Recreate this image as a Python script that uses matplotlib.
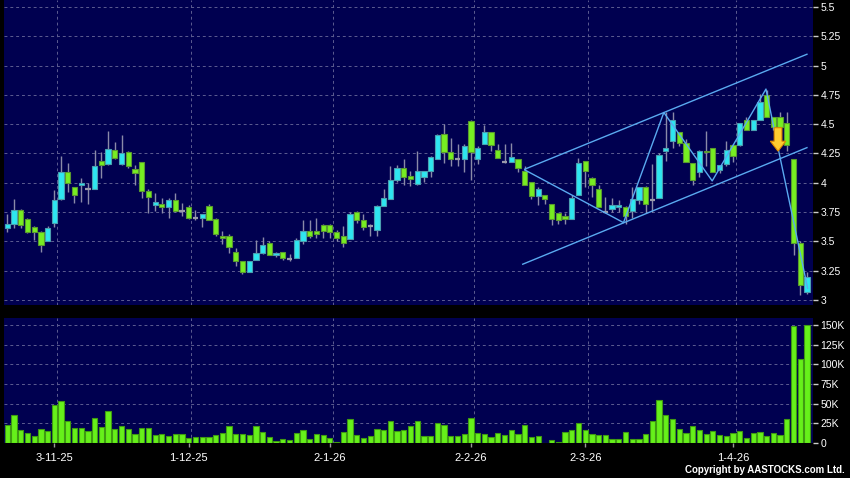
import numpy as np
import matplotlib
matplotlib.use("Agg")
import matplotlib.pyplot as plt
from matplotlib.patches import FancyArrow

plt.rcParams['font.family'] = ['Liberation Sans', 'DejaVu Sans']

# daily candles, one per trading day (index 0 = first bar)
opens = [3.61, 3.65, 3.77, 3.69, 3.62, 3.58, 3.50, 3.66, 3.86, 4.09,
         3.96, 3.98, 3.95, 3.95, 4.19, 4.16, 4.28, 4.16, 4.26, 4.12,
         4.18, 3.93, 3.81, 3.82, 3.79, 3.85, 3.76, 3.79, 3.70, 3.70,
         3.80, 3.69, 3.55, 3.55, 3.41, 3.33, 3.24, 3.34, 3.40, 3.49,
         3.38, 3.41, 3.35, 3.36, 3.50, 3.59, 3.59, 3.64, 3.64, 3.58,
         3.55, 3.52, 3.75, 3.68, 3.63, 3.60, 3.80, 3.86, 4.02, 4.13,
         4.06, 3.99, 4.05, 4.10, 4.20, 4.42, 4.26, 4.20, 4.20, 4.53,
         4.20, 4.33, 4.43, 4.28, 4.18, 4.18, 4.20, 4.10, 4.01, 3.89,
         3.90, 3.82, 3.74, 3.72, 3.69, 3.90, 4.19, 4.04, 3.95, 3.75,
         3.78, 3.79, 3.79, 3.76, 3.85, 3.96, 3.85, 3.87, 4.27, 4.36,
         4.43, 4.34, 4.17, 4.09, 4.27, 4.30, 4.11, 4.16, 4.32, 4.32,
         4.54, 4.45, 4.54, 4.75, 4.56, 4.56, 4.51, 4.20, 3.49, 3.07]
highs = [3.73, 3.86, 3.78, 3.70, 3.63, 3.59, 3.63, 3.94, 4.23, 4.17,
         3.96, 4.04, 4.00, 4.28, 4.26, 4.44, 4.35, 4.41, 4.27, 4.15,
         4.18, 3.95, 3.91, 3.87, 3.87, 3.91, 3.83, 3.81, 3.77, 3.73,
         3.82, 3.70, 3.59, 3.56, 3.44, 3.33, 3.33, 3.51, 3.54, 3.50,
         3.41, 3.41, 3.39, 3.53, 3.68, 3.68, 3.70, 3.65, 3.65, 3.60,
         3.63, 3.75, 3.76, 3.73, 3.65, 3.81, 3.95, 4.14, 4.15, 4.20,
         4.10, 4.27, 4.10, 4.23, 4.42, 4.50, 4.38, 4.33, 4.33, 4.54,
         4.31, 4.49, 4.43, 4.33, 4.33, 4.34, 4.20, 4.14, 4.01, 3.96,
         3.90, 3.82, 3.74, 3.74, 3.90, 4.21, 4.19, 4.05, 3.98, 3.88,
         3.87, 3.85, 3.80, 3.96, 3.96, 3.97, 4.16, 4.25, 4.60, 4.60,
         4.43, 4.37, 4.17, 4.28, 4.44, 4.30, 4.15, 4.36, 4.33, 4.51,
         4.56, 4.54, 4.76, 4.79, 4.56, 4.60, 4.60, 4.20, 3.50, 3.24]
lows = [3.58, 3.61, 3.61, 3.57, 3.51, 3.41, 3.50, 3.62, 3.85, 3.92,
        3.83, 3.84, 3.82, 3.95, 4.04, 4.15, 4.20, 4.15, 4.13, 3.98,
        3.87, 3.74, 3.76, 3.74, 3.70, 3.75, 3.72, 3.69, 3.68, 3.62,
        3.68, 3.55, 3.48, 3.40, 3.29, 3.22, 3.24, 3.34, 3.39, 3.38,
        3.37, 3.34, 3.33, 3.36, 3.48, 3.53, 3.53, 3.53, 3.53, 3.50,
        3.45, 3.52, 3.66, 3.60, 3.55, 3.55, 3.80, 3.86, 4.01, 3.98,
        3.97, 3.98, 4.01, 4.05, 4.20, 4.17, 4.14, 4.14, 4.09, 4.02,
        4.16, 4.33, 4.27, 4.21, 4.17, 4.18, 4.09, 3.98, 3.86, 3.81,
        3.82, 3.64, 3.65, 3.65, 3.69, 3.90, 3.96, 3.88, 3.79, 3.74,
        3.75, 3.75, 3.65, 3.70, 3.82, 3.74, 3.75, 3.87, 4.19, 4.30,
        4.31, 4.18, 3.98, 4.05, 4.14, 4.09, 4.08, 4.14, 4.18, 4.31,
        4.45, 4.45, 4.54, 4.56, 4.45, 4.48, 4.27, 3.38, 3.04, 3.05]
closes = [3.65, 3.77, 3.64, 3.58, 3.58, 3.47, 3.61, 3.85, 4.09, 4.00,
          3.90, 4.00, 3.95, 4.14, 4.15, 4.29, 4.21, 4.25, 4.14, 4.08,
          3.93, 3.88, 3.84, 3.79, 3.85, 3.76, 3.76, 3.70, 3.70, 3.73,
          3.68, 3.56, 3.53, 3.45, 3.33, 3.24, 3.33, 3.40, 3.47, 3.38,
          3.40, 3.36, 3.35, 3.51, 3.59, 3.55, 3.56, 3.59, 3.58, 3.53,
          3.49, 3.73, 3.68, 3.62, 3.63, 3.80, 3.87, 4.02, 4.13, 4.05,
          4.03, 4.10, 4.10, 4.22, 4.41, 4.26, 4.20, 4.20, 4.31, 4.26,
          4.30, 4.43, 4.32, 4.21, 4.18, 4.22, 4.13, 3.98, 3.89, 3.95,
          3.86, 3.69, 3.68, 3.69, 3.87, 4.17, 4.10, 3.98, 3.79, 3.75,
          3.81, 3.81, 3.72, 3.86, 3.96, 3.82, 3.85, 4.24, 4.30, 4.54,
          4.34, 4.18, 4.02, 4.27, 4.26, 4.09, 4.15, 4.28, 4.23, 4.51,
          4.45, 4.54, 4.69, 4.56, 4.48, 4.48, 4.32, 3.49, 3.13, 3.20]
# volume in thousands of shares
volumes = [23, 35, 17, 13, 9, 18, 15, 48, 53, 28,
           19, 19.5, 15, 32, 20, 41, 18, 21, 18, 11,
           19, 19, 10, 11, 9, 12, 11, 6, 8, 8,
           8, 10, 13, 22, 11, 11, 10, 22, 14, 8,
           3, 5.5, 4, 13, 17, 5.5, 11, 10, 6, 1.7,
           14, 30, 10, 6, 9, 18, 16, 28, 15, 16.5,
           22, 28, 9, 8.5, 25, 23, 9, 8.5, 11, 32,
           13, 11, 7, 13, 10, 16.5, 11, 23, 8, 8.5,
           0.3, 4, 1.3, 14, 17, 25, 16, 11, 10, 10,
           5, 5, 14, 5, 5, 12, 28, 55, 36, 30,
           18, 13, 21, 16, 12, 15, 10, 9, 13, 15,
           6, 13, 14, 9, 13, 10, 31, 149, 107, 150]

date_ticks = [7, 27, 48, 69, 86, 108]
date_labels = ['3-11-25', '1-12-25', '2-1-26', '2-2-26', '2-3-26', '1-4-26']
price_ticks = [3, 3.25, 3.5, 3.75, 4, 4.25, 4.5, 4.75, 5, 5.25, 5.5]
price_labels = ['3', '3.25', '3.5', '3.75', '4', '4.25', '4.5', '4.75', '5', '5.25', '5.5']
vol_ticks = [0, 25, 50, 75, 100, 125, 150]
vol_labels = ['0', '25K', '50K', '75K', '100K', '125K', '150K']

# hand drawn channel and zigzag (bar index, price)
upper_x, upper_y = [77.0, 119.0], [4.116, 5.097]
lower_x, lower_y = [76.7, 119.0], [3.305, 4.30]
zigzag_x = [77.0, 91.7, 97.7, 104.9, 112.9, 114.8, 119.1]
zigzag_y = [4.11, 3.66, 4.60, 4.016, 4.80, 4.27, 3.10]
arrow_x, arrow_top, arrow_tip = 114.7, 4.47, 4.27

BG = '#000050'
GRID = '#5c5c90'
UP = '#2ee6f0'
UP_EDGE = '#4a9fb0'
DOWN = '#77ee22'
DOWN_EDGE = '#5a9a30'

o = np.array(opens)
h = np.array(highs)
l = np.array(lows)
c = np.array(closes)
x = np.arange(len(o))

fig = plt.figure(figsize=(8.5, 4.78), dpi=100, facecolor='black')
ax1 = fig.add_axes([4/850, 1 - 305/478, 809/850, 305/478])
ax2 = fig.add_axes([4/850, 1 - 443/478, 809/850, 125/478])

xmin, xmax = -0.49, 119.9
for ax in (ax1, ax2):
    ax.set_facecolor(BG)
    ax.set_xlim(xmin, xmax)
    for s in ax.spines.values():
        s.set_visible(False)
    for t in date_ticks:
        ax.axvline(t + 0.4, color=GRID, lw=0.7, ls=(0, (3, 3)), zorder=0)

# price panel
ax1.set_ylim(2.957, 5.56)
for p in price_ticks:
    ax1.axhline(p, color=GRID, lw=0.7, ls=(0, (3, 3)), zorder=0)

ax1.vlines(x, l, h, color='#8a8aa8', lw=1, zorder=2)
up = c > o
down = c < o
doji = c == o
w = 0.78
ax1.bar(x[up], (c - o)[up], bottom=o[up], width=w, color=UP,
        edgecolor=UP_EDGE, linewidth=0.8, zorder=3)
ax1.bar(x[down], (o - c)[down], bottom=c[down], width=w, color=DOWN,
        edgecolor=DOWN_EDGE, linewidth=0.8, zorder=3)
ax1.hlines(c[doji], x[doji] - w / 2, x[doji] + w / 2, color='#9a9aaa', lw=1.6, zorder=3)

ax1.plot(upper_x, upper_y, color='#5aaaf0', lw=1, zorder=4)
ax1.plot(lower_x, lower_y, color='#5aaaf0', lw=1, zorder=4)
ax1.plot(zigzag_x, zigzag_y, color='#5aaaf0', lw=1, zorder=4)
ax1.add_patch(FancyArrow(arrow_x, arrow_top, 0, arrow_tip - arrow_top, width=1.15,
                         head_width=2.3, head_length=0.085, length_includes_head=True,
                         facecolor='#ffcc30', edgecolor='#e08a00', lw=0.8, zorder=5))

ax1.yaxis.tick_right()
ax1.set_yticks(price_ticks)
ax1.set_yticklabels(price_labels)
ax1.set_xticks([])
ax1.tick_params(axis='y', colors='#cccccc', labelcolor='white', length=3.5,
                width=1, pad=2, labelsize=7.5)

# volume panel
ax2.set_ylim(0, 158.9)
for v in vol_ticks[1:]:
    ax2.axhline(v, color=GRID, lw=0.7, ls=(0, (3, 3)), zorder=0)
ax2.bar(x, volumes, width=w, color='#66f01a', edgecolor='#3f9a12', linewidth=0.8, zorder=3)

ax2.yaxis.tick_right()
ax2.set_yticks(vol_ticks)
ax2.set_yticklabels(vol_labels)
ax2.set_xticks(date_ticks)
ax2.set_xticklabels(date_labels)
ax2.tick_params(axis='y', colors='#cccccc', labelcolor='white', length=3.5,
                width=1, pad=2, labelsize=7.5)
ax2.tick_params(axis='x', colors='#999999', labelcolor='white', length=3,
                width=1, pad=4.5, labelsize=8)

fig.text(0.994, 0.006, 'Copyright by AASTOCKS.com Ltd.', color='white',
         ha='right', va='bottom', fontsize=7, fontweight='bold')

plt.savefig('out.png', dpi=100, facecolor='black')
